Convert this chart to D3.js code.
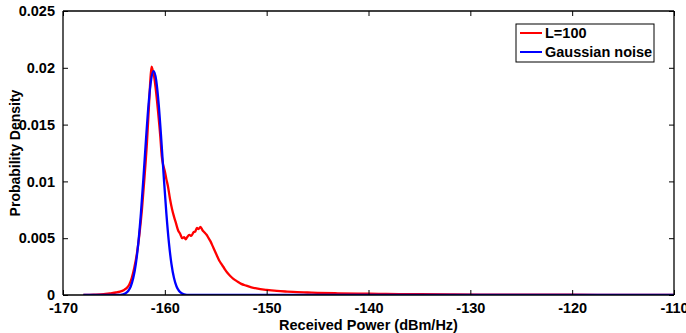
<!DOCTYPE html>
<html>
<head>
<meta charset="utf-8">
<script src="https://cdn.jsdelivr.net/npm/d3@7"></script>
<style>
html,body{margin:0;padding:0;background:#fff;}
svg{display:block;}
text{font-family:"Liberation Sans",Arial,sans-serif;font-weight:bold;fill:#000;}
</style>
</head>
<body>
<svg id="chart" width="686" height="333"></svg>
<script>
// ---- data ----
const xTicks = [-170, -160, -150, -140, -130, -120, -110];
const xTickLabels = ["-170", "-160", "-150", "-140", "-130", "-120", "-110"];
const yTicks = [0, 0.005, 0.01, 0.015, 0.02, 0.025];
const yTickLabels = ["0", "0.005", "0.01", "0.015", "0.02", "0.025"];
const seriesNames = ["L=100", "Gaussian noise"];
const seriesColors = ["#ff0000", "#0000ff"];

const redX = [-168.0,-167.0,-166.0,-165.4,-164.8,-164.4,-164.0,-163.75,-163.5,-163.25,-163.0,-162.75,-162.5,-162.25,-162.0,-161.75,-161.55,-161.4,-161.3,-161.2,-161.05,-160.85,-160.65,-160.45,-160.3,-160.15,-160.0,-159.85,-159.7,-159.5,-159.3,-159.1,-158.9,-158.7,-158.5,-158.3,-158.1,-157.95,-157.8,-157.6,-157.4,-157.2,-157.0,-156.85,-156.7,-156.5,-156.3,-156.1,-155.9,-155.7,-155.5,-155.3,-155.1,-154.9,-154.7,-154.5,-154.2,-153.9,-153.6,-153.3,-152.9,-152.5,-152.0,-151.5,-151.0,-150.0,-149.0,-148.0,-147.0,-146.0,-145.0,-143.0,-141.0,-139.0,-137.0,-135.0,-132.0,-129.0,-125.0,-120.0,-115.0,-110.0];
const redY = [0.0,0.00003,0.00008,0.00015,0.00022,0.0003,0.00045,0.0006,0.0009,0.0015,0.0024,0.0036,0.0053,0.0075,0.0103,0.0135,0.0168,0.0192,0.0201,0.0198,0.0192,0.0178,0.0160,0.0140,0.0122,0.0114,0.0109,0.0102,0.0096,0.0085,0.0076,0.0069,0.0063,0.0057,0.0054,0.0050,0.0051,0.0049,0.0051,0.0053,0.0052,0.0055,0.0056,0.0059,0.0058,0.0060,0.0057,0.0055,0.0053,0.0050,0.0047,0.0043,0.0039,0.0035,0.0031,0.0028,0.0024,0.0020,0.0017,0.00145,0.0012,0.00098,0.00082,0.00068,0.00058,0.00045,0.00036,0.0003,0.00025,0.00022,0.00019,0.00015,0.00012,0.0001,0.00008,0.00007,0.00005,0.00004,0.00003,0.00002,0.00001,0.0];

const blueX = [-168.0,-164.6,-164.1,-163.85,-163.6,-163.35,-163.1,-162.85,-162.6,-162.35,-162.1,-161.85,-161.6,-161.35,-161.1,-160.85,-160.6,-160.35,-160.1,-159.85,-159.6,-159.35,-159.1,-158.85,-158.6,-158.35,-158.1,-157.6,-110.0];
const blueY = [0.0,0.000007,0.00006,0.00015,0.00035,0.00075,0.00149,0.00273,0.00461,0.00718,0.01033,0.0137,0.01677,0.01892,0.0197,0.01892,0.01677,0.0137,0.01033,0.00718,0.00461,0.00273,0.00149,0.00075,0.00035,0.00015,0.00006,0.000007,0.0];

// ---- layout ----
const svg = d3.select("#chart");
const L = 63, R = 674, T = 11, B = 295;
const FS = 14.5;
const x = d3.scaleLinear().domain([-170, -110]).range([L, R]);
const y = d3.scaleLinear().domain([0, 0.025]).range([B, T]);

const line = d3.line().x(d => x(d[0])).y(d => y(d[1])).curve(d3.curveMonotoneX);
const redData = redX.map((v, i) => [v, redY[i]]);
const blueData = blueX.map((v, i) => [v, blueY[i]]);

svg.append("clipPath").attr("id","clip").append("rect")
  .attr("x", L).attr("y", T).attr("width", R-L).attr("height", B-T);

const g = svg.append("g").attr("clip-path","url(#clip)");
g.append("path").datum(redData).attr("d", line)
  .attr("fill","none").attr("stroke", seriesColors[0]).attr("stroke-width", 2.3).attr("stroke-linejoin","round");
g.append("path").datum(blueData).attr("d", line)
  .attr("fill","none").attr("stroke", seriesColors[1]).attr("stroke-width", 2.3).attr("stroke-linejoin","round");

// axes (ticks inside, mirrored)
const tl = 5;
const axB = d3.axisBottom(x).tickValues(xTicks).tickSize(-tl).tickPadding(tl + 3).tickFormat((d,i) => xTickLabels[i]);
const axT = d3.axisTop(x).tickValues(xTicks).tickSize(-tl).tickFormat("");
const axL = d3.axisLeft(y).tickValues(yTicks).tickSize(-tl).tickPadding(tl + 3).tickFormat((d,i) => yTickLabels[i]);
const axR = d3.axisRight(y).tickValues(yTicks).tickSize(-tl).tickFormat("");

function style(sel){
  sel.selectAll("path").attr("stroke","#000").attr("stroke-width",1.3);
  sel.selectAll("line").attr("stroke","#000").attr("stroke-width",1);
  sel.selectAll("text").attr("font-family",'"Liberation Sans",Arial,sans-serif').attr("font-weight","bold").attr("font-size",FS).attr("fill","#000");
}
svg.append("g").attr("transform",`translate(0,${B})`).call(axB).call(style).call(s=>s.selectAll(".domain").attr("d",`M${L},0H${R}`));
svg.append("g").attr("transform",`translate(0,${T})`).call(axT).call(style).call(s=>s.selectAll(".domain").attr("d",`M${L},0H${R}`));
svg.append("g").attr("transform",`translate(${L},0)`).call(axL).call(style).call(s=>s.selectAll(".domain").attr("d",`M0,${B}V${T}`));
svg.append("g").attr("transform",`translate(${R},0)`).call(axR).call(style).call(s=>s.selectAll(".domain").attr("d",`M0,${B}V${T}`));

// axis labels
svg.append("text").attr("x", (L+R)/2).attr("y", 330).attr("text-anchor","middle").attr("font-size",FS).text("Received Power (dBm/Hz)");
svg.append("text").attr("transform",`translate(20,${(T+B)/2}) rotate(-90)`).attr("text-anchor","middle").attr("font-size",14).text("Probability Density");

// legend
const lg = svg.append("g");
lg.append("rect").attr("x",516).attr("y",24).attr("width",138).attr("height",38).attr("fill","#fff").attr("stroke","#000").attr("stroke-width",1);
seriesNames.forEach((n,i) => {
  const yy = 33 + i*19;
  lg.append("line").attr("x1",520).attr("x2",542).attr("y1",yy).attr("y2",yy).attr("stroke",seriesColors[i]).attr("stroke-width",2);
  lg.append("text").attr("x",545).attr("y",yy).attr("dy","0.36em").attr("font-size",FS).text(n);
});
</script>
</body>
</html>
